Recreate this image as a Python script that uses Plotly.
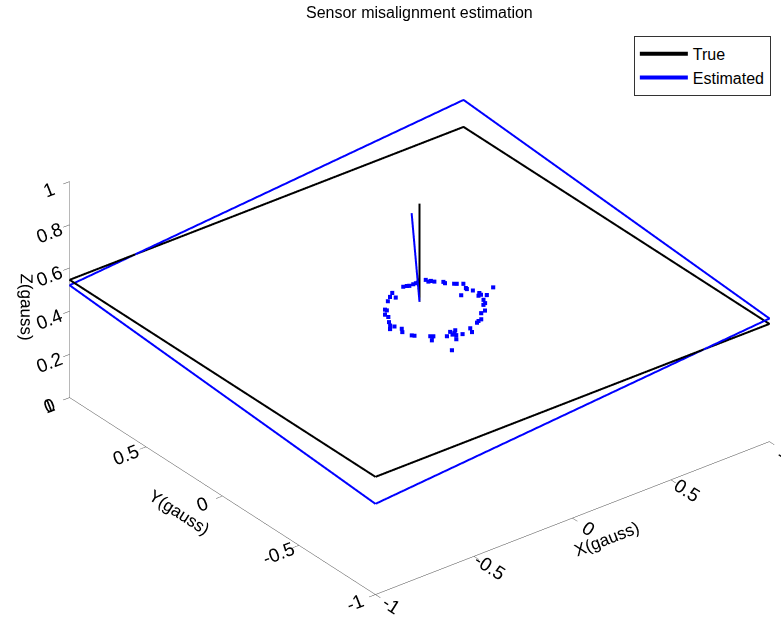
import plotly.graph_objects as go

# True sensor plane (square corners) and its normal
true_x = [-1, 1, 1, -1, -1]
true_y = [-1, -1, 1, 1, -1]
true_z = [0.545, 0.545, 0.545, 0.545, 0.545]
true_nx = [0, 0]
true_ny = [0, 0]
true_nz = [0.545, 1.0]

# Estimated plane and its normal
est_x = [-1, 1, 1, -1, -1]
est_y = [-1, -1, 1, 1, -1]
est_z = [0.42, 0.57, 0.67, 0.52, 0.42]
est_nx = [0, -0.04]
est_ny = [0, 0]
est_nz = [0.545, 0.97]

# Measurement points
pts_x = [0.176, 0.176, 0.187, 0.195, 0.222, 0.221, 0.247, 0.255, 0.276, 0.263,
         0.261, 0.213, 0.273, 0.281, 0.278, 0.265, 0.295, 0.353, 0.261, 0.250,
         0.236, 0.213, 0.188, 0.158, 0.141, 0.128, 0.079, 0.066, 0.026, 0.022,
         0.007, 0.001, -0.008, -0.019, -0.002, -0.034, -0.087, -0.077, -0.087, -0.102,
         -0.134, -0.141, -0.140, -0.155, -0.152, -0.179, -0.161, -0.148, -0.125, -0.124,
         -0.097, -0.099, -0.049, -0.021, 0.006, -0.006, 0.071, 0.086, 0.095, 0.115,
         0.128, 0.137]
pts_y = [0.186, 0.169, 0.167, 0.154, 0.130, 0.118, 0.092, 0.085, 0.069, 0.036,
         0.027, 0.002, 0.003, -0.029, -0.044, -0.044, -0.060, -0.027, -0.082, -0.107,
         -0.114, -0.154, -0.161, -0.200, -0.204, -0.211, -0.230, -0.258, -0.248, -0.205,
         -0.220, -0.239, -0.226, -0.265, -0.203, -0.223, -0.324, -0.190, -0.182, -0.212,
         -0.140, -0.131, -0.064, -0.087, -0.032, -0.038, -0.015, 0.009, 0.043, 0.066,
         0.089, 0.098, 0.144, 0.166, 0.186, 0.148, 0.198, 0.194, 0.189, 0.189,
         0.189, 0.188]
pts_z = [0.5, 0.5, 0.5, 0.5, 0.5, 0.5, 0.5, 0.5, 0.5, 0.5,
         0.5, 0.5, 0.5, 0.5, 0.5, 0.5, 0.5, 0.5, 0.5, 0.5,
         0.5, 0.5, 0.5, 0.5, 0.5, 0.5, 0.5, 0.5, 0.5, 0.5,
         0.5, 0.5, 0.5, 0.5, 0.5, 0.5, 0.5, 0.5, 0.5, 0.5,
         0.5, 0.5, 0.5, 0.5, 0.5, 0.5, 0.5, 0.5, 0.5, 0.5,
         0.5, 0.5, 0.5, 0.5, 0.5, 0.5, 0.5, 0.5, 0.5, 0.5,
         0.5, 0.5]

xy_ticks = [-1, -0.5, 0, 0.5, 1]
xy_ticktext = ["-1", "-0.5", "0", "0.5", "1"]
z_ticks = [0, 0.2, 0.4, 0.6, 0.8, 1]
z_ticktext = ["0", "0.2", "0.4", "0.6", "0.8", "1"]

FONT = "Liberation Sans, Arial, sans-serif"
FS = 16

fig = go.Figure()
fig.add_trace(go.Scatter3d(x=true_x, y=true_y, z=true_z, mode="lines",
                           line=dict(color="black", width=4), name="True"))
fig.add_trace(go.Scatter3d(x=est_x, y=est_y, z=est_z, mode="lines",
                           line=dict(color="#0000ff", width=4), name="Estimated"))
fig.add_trace(go.Scatter3d(x=true_nx, y=true_ny, z=true_nz, mode="lines",
                           line=dict(color="black", width=4), showlegend=False))
fig.add_trace(go.Scatter3d(x=est_nx, y=est_ny, z=est_nz, mode="lines",
                           line=dict(color="#0000ff", width=4), showlegend=False))
fig.add_trace(go.Scatter3d(x=pts_x, y=pts_y, z=pts_z, mode="markers",
                           marker=dict(color="#0000ff", size=2.1, symbol="square"),
                           showlegend=False))

def ax(title, vals, text, rng):
    return dict(title=dict(text=title, font=dict(family=FONT, size=17, color="black")),
                range=rng, tickvals=vals, ticktext=text, autorange=False,
                showbackground=False, showgrid=False, zeroline=False,
                showline=True, linecolor="#444", linewidth=1,
                ticks="outside", ticklen=8, tickcolor="#444",
                tickfont=dict(family=FONT, size=15, color="black"),
                showspikes=False)

fig.update_layout(
    width=781, height=627,
    margin=dict(l=0, r=0, t=0, b=0),
    paper_bgcolor="white",
    font=dict(family=FONT, size=FS, color="black"),
    title=dict(text="Sensor misalignment estimation", x=0.537, xanchor="center",
               y=0.98, yanchor="middle", font=dict(family=FONT, size=FS, color="black")),
    showlegend=True,
    legend=dict(x=0.987, y=0.943, xanchor="right", yanchor="top",
                bgcolor="white", bordercolor="#333", borderwidth=1,
                itemwidth=48, tracegroupgap=0,
                font=dict(family=FONT, size=FS, color="black")),
    hovermode=False,
    scene=dict(
        domain=dict(x=[0, 1], y=[0, 1]),
        xaxis=ax("X(gauss)", xy_ticks, xy_ticktext, [-1, 1]),
        yaxis=ax("Y(gauss)", xy_ticks, xy_ticktext, [-1, 1]),
        zaxis=ax("Z(gauss)", z_ticks, z_ticktext, [0, 1]),
        aspectmode="manual",
        aspectratio=dict(x=1.591, y=1.591, z=0.7955),
        camera=dict(projection=dict(type="orthographic"),
                    eye=dict(x=-1.137, y=-1.3137, z=0.99475),
                    up=dict(x=0, y=0, z=1),
                    center=dict(x=-0.07495, y=0.0543, z=-0.00525)),
    ),
)

fig.write_html("out.html")
